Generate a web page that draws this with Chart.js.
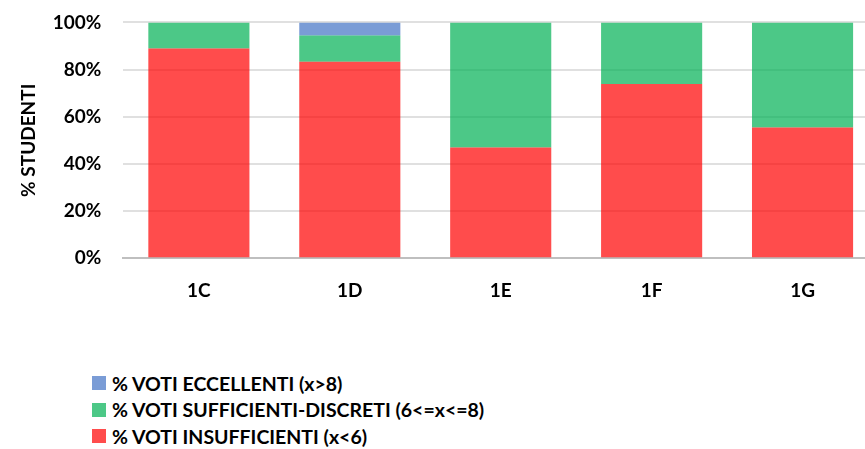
<!DOCTYPE html>
<html>
<head>
<meta charset="utf-8">
<script src="https://cdn.jsdelivr.net/npm/chart.js@4"></script>
<style>
  html, body { margin: 0; padding: 0; background: #fff; overflow: hidden; width: 865px; height: 449px; }
  #wrap { position: absolute; left: 0; top: -11px; width: 880px; height: 334px; }
  #legend { position: absolute; left: 92px; top: 370px; font-family: Lato, sans-serif; font-weight: bold; font-size: 19.5px; color: #000; }
  .item { display: flex; align-items: center; height: 26.5px; }
  .box { width: 14px; height: 14px; margin-right: 6px; }
</style>
</head>
<body>
<div id="wrap"><canvas id="chart" width="880" height="334"></canvas></div>
<div id="legend"></div>
<script>
const classes = ["1C", "1D", "1E", "1F", "1G"];
const insufficienti = [88.9, 83.3, 46.9, 73.9, 55.4];
const sufficienti = [11.1, 11.1, 53.1, 26.1, 44.6];
const eccellenti = [0, 5.6, 0, 0, 0];
const yTicks = [0, 20, 40, 60, 80, 100];

const font = { family: "Lato", weight: "bold", size: 19 };

const ctx = document.getElementById("chart").getContext("2d");
const chart = new Chart(ctx, {
  type: "bar",
  data: {
    labels: classes,
    datasets: [
      {
        label: "% VOTI INSUFFICIENTI (x<6)",
        data: insufficienti,
        backgroundColor: "rgba(255, 0, 0, 0.7)",
      },
      {
        label: "% VOTI SUFFICIENTI-DISCRETI (6<=x<=8)",
        data: sufficienti,
        backgroundColor: "rgba(0, 176, 84, 0.7)",
      },
      {
        label: "% VOTI ECCELLENTI (x>8)",
        data: eccellenti,
        backgroundColor: "rgba(65, 114, 196, 0.7)",
      },
    ],
  },
  options: {
    responsive: false,
    animation: false,
    layout: { padding: { top: 0, right: 2, left: 0 } },
    datasets: { bar: { categoryPercentage: 1, barPercentage: 0.67 } },
    plugins: {
      legend: { display: false },
      tooltip: { enabled: false },
    },
    scales: {
      x: {
        stacked: true,
        grid: { display: false, drawTicks: false },
        border: { display: true, color: "#bfbfbf", width: 2 },
        ticks: { color: "#000", font: font, padding: 21 },
      },
      y: {
        stacked: true,
        min: 0,
        max: 100,
        afterBuildTicks: function (axis) {
          axis.ticks = yTicks.map(function (v) { return { value: v }; });
        },
        grid: { color: "#e0e0e0", lineWidth: 2, drawTicks: false },
        border: { display: false },
        ticks: {
          color: "#000",
          font: font,
          padding: 22,
          callback: function (v) { return v + "%"; },
        },
        title: { display: true, text: "% STUDENTI", color: "#000", font: font, padding: { top: 17, bottom: -9 } },
      },
    },
  },
});

// legend listed top-down in reverse dataset order
const legendEl = document.getElementById("legend");
chart.data.datasets.slice().reverse().forEach(function (ds) {
  const item = document.createElement("div");
  item.className = "item";
  const box = document.createElement("span");
  box.className = "box";
  box.style.background = ds.backgroundColor;
  const txt = document.createElement("span");
  txt.textContent = ds.label;
  item.appendChild(box);
  item.appendChild(txt);
  legendEl.appendChild(item);
});
</script>
</body>
</html>
